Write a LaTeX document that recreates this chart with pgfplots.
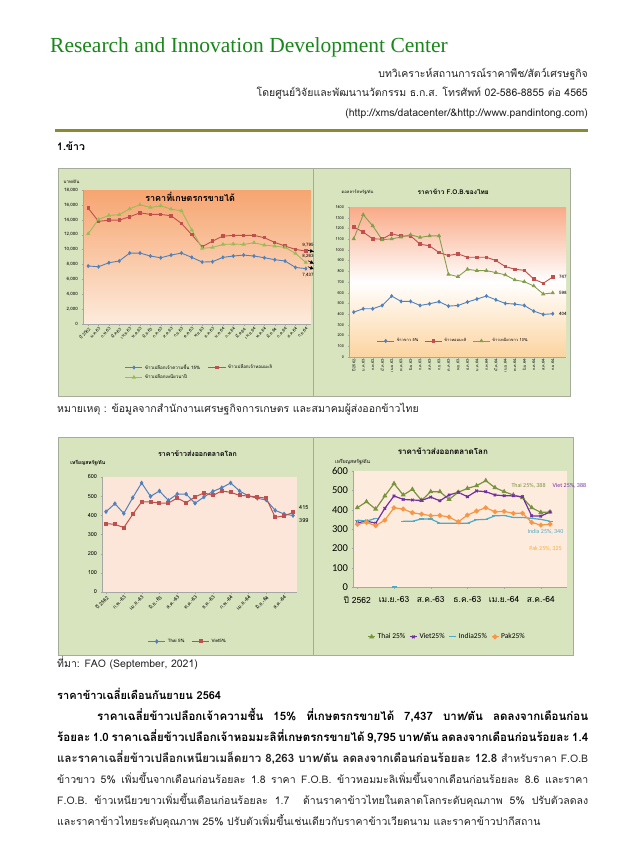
\documentclass[border=0pt]{standalone}
\usepackage{fontspec}
\setmainfont[Script=Thai]{Loma}
\newfontfamily\headfont{Liberation Serif}
\newfontfamily\calfont{Carlito}
\usepackage{pgfplots}
\pgfplotsset{compat=1.18}
\usetikzlibrary{arrows.meta}
\definecolor{panelgreen}{RGB}{216,228,190}
\definecolor{panelline}{RGB}{165,172,155}
\definecolor{hgreen}{RGB}{25,135,25}
\definecolor{rulecol}{RGB}{138,138,46}
\definecolor{sblue}{RGB}{79,129,189}
\definecolor{sred}{RGB}{192,80,77}
\definecolor{sgreen}{RGB}{155,187,89}
\definecolor{tolive}{RGB}{119,147,60}
\definecolor{vpurple}{RGB}{112,48,160}
\definecolor{iblue}{RGB}{75,172,198}
\definecolor{porange}{RGB}{247,150,70}
\definecolor{bgAtop}{RGB}{246,165,112}
\definecolor{bgAbot}{RGB}{253,235,220}
\definecolor{bgBtop}{RGB}{249,170,135}
\definecolor{bgBbot}{RGB}{252,212,160}
\definecolor{bgC}{RGB}{252,230,218}
\definecolor{bgD}{RGB}{253,236,222}
\definecolor{txt}{RGB}{35,35,35}
\pgfplotsset{
  chartbase/.style={
    scale only axis, anchor=south west,
    axis x line*=bottom, axis y line*=left,
    axis line style={draw=gray!70,-},
    tick style={draw=gray!70},
    tick align=outside, major tick length=1.5pt,
    /pgf/number format/assume math mode=true,
    scaled y ticks=false, clip=false,
    legend cell align=left,
  },
}
\newcommand{\fs}[1]{\fontsize{#1}{#1}\selectfont}
\begin{document}
\begin{tikzpicture}[x=1pt,y=1pt]
\useasboundingbox (0,0) rectangle (625,-862);
\fill[white] (0,0) rectangle (625,-862);
% header
\node[anchor=base west, inner sep=0, text=hgreen, font=\headfont\fs{21.5}] at (50,-52) {Research and Innovation Development Center};
\node[anchor=base east, inner sep=0, text=txt, font=\fs{10.5}] at (588,-77) {บทวิเคราะห์สถานการณ์ราคาพืช/สัตว์เศรษฐกิจ};
\node[anchor=base east, inner sep=0, text=txt, font=\fs{10.5}] at (588,-96) {โดยศูนย์วิจัยและพัฒนานวัตกรรม ธ.ก.ส. โทรศัพท์ 02-586-8855 ต่อ 4565};
\node[anchor=base east, inner sep=0, text=txt, font=\fs{10.5}] at (588,-116) {(http://xms/datacenter/\&http://www.pandintong.com)};
\draw[rulecol, line width=3pt] (55,-130) -- (588,-130);
\node[anchor=base west, inner sep=0, font=\bfseries\fs{10.5}] at (57,-150) {1.ข้าว};
% panels
\draw[panelline, fill=panelgreen] (58,-168) rectangle (313,-396);
\draw[panelline, fill=panelgreen] (313,-168) rectangle (570,-396);
\draw[panelline, fill=panelgreen] (58,-437) rectangle (313,-655);
\draw[panelline, fill=panelgreen] (313,-437) rectangle (573,-655);
% ---------- chart 1
\begin{axis}[chartbase, at={(83pt,-324pt)}, width=228pt, height=134pt,
  xmin=-0.5, xmax=21.5, ymin=0, ymax=18000,
  axis background/.style={top color=bgAtop, bottom color=bgAbot},
  ytick={0,2000,...,18000},
  yticklabel style={font=\fs{4.5}, /pgf/number format/1000 sep={,}},
  xtick={0,...,21},
  xticklabels={ปี 2562,ม.ค.63,ก.พ.63,มี.ค.63,เม.ย.63,พ.ค.63,มิ.ย.63,ก.ค.63,ส.ค.63,ก.ย.63,ต.ค.63,พ.ย.63,ธ.ค.63,ม.ค.64,ก.พ.64,มี.ค.64,เม.ย.64,พ.ค.64,มิ.ย.64,ก.ค.64,ส.ค.64,ก.ย.64},
  xticklabel style={font=\fs{4.2}, rotate=45, anchor=north east, inner sep=1pt},
  legend columns=2,
  legend style={at={(0.17,-0.27)}, anchor=north west, draw=none, fill=none, font=\fs{4.5}, /tikz/every even column/.append style={column sep=6pt}},
  every axis plot/.append style={line width=0.9pt, mark size=1.4pt},
]
\addplot[sblue, mark=diamond*] coordinates {(0,7790)(1,7700)(2,8230)(3,8460)(4,9530)(5,9530)(6,9130)(7,8900)(8,9260)(9,9530)(10,8950)(11,8320)(12,8370)(13,8950)(14,9130)(15,9260)(16,9130)(17,8900)(18,8640)(19,8460)(20,7600)(21,7437)};
\addplot[sred, mark=square*, mark size=1.2pt] coordinates {(0,15570)(1,13780)(2,13960)(3,13960)(4,14400)(5,14940)(6,14720)(7,14720)(8,14540)(9,13510)(10,11990)(11,10380)(12,11140)(13,11810)(14,11900)(15,11900)(16,11900)(17,11590)(18,10960)(19,10470)(20,10020)(21,9795)};
\addplot[sgreen, mark=triangle*, mark size=1.6pt] coordinates {(0,12125)(1,14050)(2,14590)(3,14680)(4,15480)(5,16020)(6,15660)(7,15880)(8,15440)(9,15210)(10,12620)(11,10160)(12,10290)(13,10690)(14,10740)(15,10690)(16,10920)(17,10600)(18,10470)(19,10290)(20,9490)(21,8263)};
\legend{ข้าวเปลือกเจ้าความชื้น 15\%,ข้าวเปลือกเจ้าหอมมะลิ,ข้าวเปลือกเหนียวนาปี}
\node[font=\bfseries\fs{9}] at (rel axis cs:0.47,0.945) {ราคาที่เกษตรกรขายได้};
\node[font=\fs{4.5}, anchor=west] at (rel axis cs:-0.1,1.06) {บาท/ตัน};
\node[font=\fs{4.5}, anchor=south] at (axis cs:21.2,9900) {9,795};
\node[font=\fs{4.5}, anchor=south] at (axis cs:21.2,8400) {8,263};
\node[font=\fs{4.5}, anchor=north] at (axis cs:21.2,7250) {7,437};
\draw[-{Latex[length=4pt,width=4pt]}, black, line width=0.6pt] (axis cs:21.2,9900) -- (axis cs:21.8,9700);
\draw[-{Latex[length=4pt,width=4pt]}, black, line width=0.6pt] (axis cs:21.2,8500) -- (axis cs:21.8,8100);
\draw[-{Latex[length=4pt,width=4pt]}, black, line width=0.6pt] (axis cs:21.2,7700) -- (axis cs:21.8,7350);
\end{axis}
% ---------- chart 2
\begin{axis}[chartbase, at={(349pt,-357pt)}, width=217pt, height=150pt,
  xmin=-0.5, xmax=22.4, ymin=0, ymax=1400,
  axis background/.style={top color=bgBtop, bottom color=bgBbot, middle color=white},
  ytick={0,100,...,1400},
  yticklabel style={font=\fs{3.8}, /pgf/number format/1000 sep={}},
  xtick={0,...,21},
  xticklabels={ปี 2562,ม.ค.63,ก.พ.63,มี.ค.63,เม.ย.63,พ.ค.63,มิ.ย.63,ก.ค.63,ส.ค.63,ก.ย.63,ต.ค.63,พ.ย.63,ธ.ค.63,ม.ค.64,ก.พ.64,มี.ค.64,เม.ย.64,พ.ค.64,มิ.ย.64,ก.ค.64,ส.ค.64,ก.ย.64},
  xticklabel style={font=\fs{3.8}, rotate=90, anchor=east, inner sep=1pt},
  legend columns=3,
  legend style={at={(0.48,0.107)}, anchor=center, draw=none, fill=none, font=\fs{4}, /tikz/every even column/.append style={column sep=4pt}},
  every axis plot/.append style={line width=0.9pt, mark size=1.4pt},
]
\addplot[sblue, mark=diamond*] coordinates {(0,419)(1,450)(2,450)(3,481)(4,569)(5,519)(6,519)(7,481)(8,497)(9,516)(10,475)(11,481)(12,513)(13,541)(14,569)(15,534)(16,500)(17,494)(18,481)(19,428)(20,397)(21,404)};
\addplot[sred, mark=square*, mark size=1.3pt] coordinates {(0,1213)(1,1166)(2,1103)(3,1100)(4,1150)(5,1128)(6,1131)(7,1053)(8,1038)(9,975)(10,947)(11,963)(12,931)(13,931)(14,931)(15,900)(16,844)(17,819)(18,809)(19,728)(20,688)(21,747)};
\addplot[sgreen!85!black, mark=triangle*, mark size=1.6pt] coordinates {(0,1103)(1,1328)(2,1225)(3,1094)(4,1103)(5,1119)(6,1141)(7,1116)(8,1131)(9,1131)(10,772)(11,750)(12,819)(13,806)(14,806)(15,788)(16,766)(17,719)(18,703)(19,663)(20,588)(21,598)};
\legend{ข้าวขาว 5\%,ข้าวหอมมะลิ,ข้าวเหนียวขาว 10\%}
\node[font=\bfseries\fs{6.5}] at (rel axis cs:0.48,1.1) {ราคาข้าว F.O.B.ของไทย};
\node[font=\fs{4.2}, anchor=west] at (rel axis cs:-0.05,1.1) {ดอลลาร์สหรัฐ/ตัน};
\node[font=\fs{4.5}, anchor=west] at (axis cs:21.3,747) {747};
\node[font=\fs{4.5}, anchor=west] at (axis cs:21.3,598) {598};
\node[font=\fs{4.5}, anchor=west] at (axis cs:21.3,404) {404};
\end{axis}
% ---------- chart 3
\begin{axis}[chartbase, at={(102pt,-592pt)}, width=195pt, height=115pt,
  xmin=-0.45, xmax=21.45, ymin=0, ymax=600,
  axis background/.style={fill=bgC},
  ytick={0,100,...,600},
  yticklabel style={font=\fs{5.5}},
  xtick={0,2,...,20},
  xticklabels={ปี 2562,ก.พ.-63,เม.ย.-63,มิ.ย.-63,ส.ค.-63,ต.ค.-63,ธ.ค.-63,ก.พ.-64,เม.ย.-64,มิ.ย.-64,ส.ค.-64},
  xticklabel style={font=\fs{5}, rotate=45, anchor=north east, inner sep=1pt},
  legend columns=2,
  legend style={at={(0.44,-0.43)}, anchor=center, draw=none, fill=none, font=\fs{4.5}, /tikz/every even column/.append style={column sep=5pt}},
  every axis plot/.append style={line width=1pt, mark size=1.6pt},
]
\addplot[sblue, mark=diamond*] coordinates {(0,419)(1,461)(2,410)(3,492)(4,569)(5,499)(6,527)(7,478)(8,511)(9,511)(10,463)(11,496)(12,525)(13,544)(14,569)(15,527)(16,501)(17,489)(18,480)(19,426)(20,407)(21,399)};
\addplot[sred, mark=square*, mark size=1.5pt] coordinates {(0,357)(1,353)(2,336)(3,405)(4,470)(5,470)(6,464)(7,464)(8,490)(9,466)(10,496)(11,517)(12,504)(13,527)(14,520)(15,504)(16,501)(17,496)(18,489)(19,390)(20,397)(21,415)};
\legend{Thai 5\%,Viet5\%}
\node[font=\bfseries\fs{7}] at (rel axis cs:0.49,1.2) {ราคาข้าวส่งออกตลาดโลก};
\node[font=\bfseries\fs{5}, anchor=west] at (rel axis cs:-0.18,1.12) {เหรียญสหรัฐ/ตัน};
\node[font=\fs{5.5}, anchor=west] at (axis cs:21.3,440) {415};
\node[font=\fs{5.5}, anchor=west] at (axis cs:21.3,375) {399};
\end{axis}
% ---------- chart 4
\begin{axis}[chartbase, at={(353pt,-587pt)}, width=214pt, height=116pt,
  xmin=-0.47, xmax=22.85, ymin=0, ymax=600,
  axis background/.style={fill=bgD},
  ytick={0,100,...,600},
  yticklabel style={font=\calfont\fs{10.5}},
  xtick={0,4,...,20},
  xticklabels={ปี 2562,เม.ย.-63,ส.ค.-63,ธ.ค.-63,เม.ย.-64,ส.ค.-64},
  xticklabel style={font=\fs{8.5}, inner sep=2pt, yshift=-6pt},
  legend columns=4,
  legend style={at={(0.44,-0.43)}, anchor=center, draw=none, fill=none, font=\calfont\fs{7.5}, inner sep=0pt, /tikz/every even column/.append style={column sep=2pt}},
  legend image code/.code={\draw[#1] (0pt,0pt) -- (7pt,0pt); \draw[#1, mark repeat=2, mark phase=2] plot coordinates {(0pt,0pt) (3.5pt,0pt) (7pt,0pt)};},
  every axis plot/.append style={line width=1.2pt, mark size=1.8pt},
  unbounded coords=jump,
]
\addplot[tolive, mark=triangle*] coordinates {(0,410)(1,441)(2,403)(3,471)(4,535)(5,476)(6,505)(7,448)(8,493)(9,493)(10,453)(11,490)(12,510)(13,524)(14,550)(15,514)(16,493)(17,476)(18,462)(19,410)(20,386)(21,388)};
\addplot[vpurple, mark=x] coordinates {(0,332)(1,341)(2,330)(3,407)(4,471)(5,453)(6,450)(7,448)(8,465)(9,446)(10,476)(11,490)(12,467)(13,497)(14,493)(15,476)(16,472)(17,472)(18,467)(19,368)(20,367)(21,388)};
\addplot[iblue, mark=-, mark size=2.5pt] coordinates {(0,346)(1,341)(2,355)(3,nan)(4,nan)(5,340)(6,340)(7,352)(8,352)(9,330)(10,330)(11,330)(12,330)(13,348)(14,350)(15,368)(16,370)(17,360)(18,360)(19,355)(20,350)(21,340)};
\addplot[porange, mark=*] coordinates {(0,324)(1,334)(2,317)(3,346)(4,410)(5,403)(6,384)(7,377)(8,369)(9,370)(10,362)(11,337)(12,372)(13,393)(14,410)(15,389)(16,391)(17,381)(18,381)(19,334)(20,320)(21,325)};
\addplot[iblue, mark=-, mark size=2.5pt, only marks, forget plot] coordinates {(4,0)};
\legend{Thai 25\%,Viet25\%,India25\%,Pak25\%}
\node[font=\bfseries\fs{8}] at (rel axis cs:0.42,1.17) {ราคาข้าวส่งออกตลาดโลก};
\node[font=\fs{5}, anchor=west] at (rel axis cs:-0.1,1.08) {เหรียญสหรัฐ/ตัน};
\node[font=\calfont\fs{6}, text=tolive, anchor=east] at (axis cs:20.9,525) {Thai 25\%, 388};
\node[font=\calfont\fs{6}, text=vpurple, anchor=west] at (axis cs:20.9,525) {Viet 25\%, 388};
\node[font=\calfont\fs{6}, text=iblue] at (axis cs:20.5,285) {India 25\%, 340};
\node[font=\calfont\fs{6}, text=porange!80!yellow] at (axis cs:20.5,200) {Pak 25\%, 325};
\end{axis}
% notes and text
\node[anchor=base west, inner sep=0, text=txt, font=\fs{10.5}] at (57,-412) {หมายเหตุ : ข้อมูลจากสำนักงานเศรษฐกิจการเกษตร และสมาคมผู้ส่งออกข้าวไทย};
\node[anchor=base west, inner sep=0, text=txt, font=\fs{10.5}] at (57,-667) {ที่มา: FAO (September, 2021)};
\node[anchor=base west, inner sep=0, font=\bfseries\fs{11}] at (57,-699) {ราคาข้าวเฉลี่ยเดือนกันยายน 2564};
\node[anchor=base west, inner sep=0, font=\bfseries\fs{11.5}] at (97,-720) {\makebox[491pt][s]{ราคาเฉลี่ยข้าวเปลือกเจ้าความชื้น 15\% ที่เกษตรกรขายได้ 7,437 บาท/ตัน ลดลงจากเดือนก่อน}};
\node[anchor=base west, inner sep=0, font=\bfseries\fs{11.5}] at (57,-741) {\makebox[531pt][s]{ร้อยละ 1.0 ราคาเฉลี่ยข้าวเปลือกเจ้าหอมมะลิที่เกษตรกรขายได้ 9,795 บาท/ตัน ลดลงจากเดือนก่อนร้อยละ 1.4}};
\node[anchor=base west, inner sep=0, font=\fs{10.5}, text=txt] at (57,-762) {\makebox[531pt][s]{\fs{11.5}\textbf{และราคาเฉลี่ยข้าวเปลือกเหนียวเมล็ดยาว 8,263 บาท/ตัน ลดลงจากเดือนก่อนร้อยละ 12.8}\fs{10.5} สำหรับราคา F.O.B}};
\node[anchor=base west, inner sep=0, font=\fs{10.5}, text=txt] at (57,-783) {\makebox[531pt][s]{ข้าวขาว 5\% เพิ่มขึ้นจากเดือนก่อนร้อยละ 1.8 ราคา F.O.B. ข้าวหอมมะลิเพิ่มขึ้นจากเดือนก่อนร้อยละ 8.6 และราคา}};
\node[anchor=base west, inner sep=0, font=\fs{10.5}, text=txt] at (57,-804) {\makebox[531pt][s]{F.O.B. ข้าวเหนียวขาวเพิ่มขึ้นเดือนก่อนร้อยละ 1.7 \ ด้านราคาข้าวไทยในตลาดโลกระดับคุณภาพ 5\% ปรับตัวลดลง}};
\node[anchor=base west, inner sep=0, font=\fs{10.5}, text=txt] at (57,-825) {และราคาข้าวไทยระดับคุณภาพ 25\% ปรับตัวเพิ่มขึ้นเช่นเดียวกับราคาข้าวเวียดนาม และราคาข้าวปากีสถาน};
\end{tikzpicture}
\end{document}
